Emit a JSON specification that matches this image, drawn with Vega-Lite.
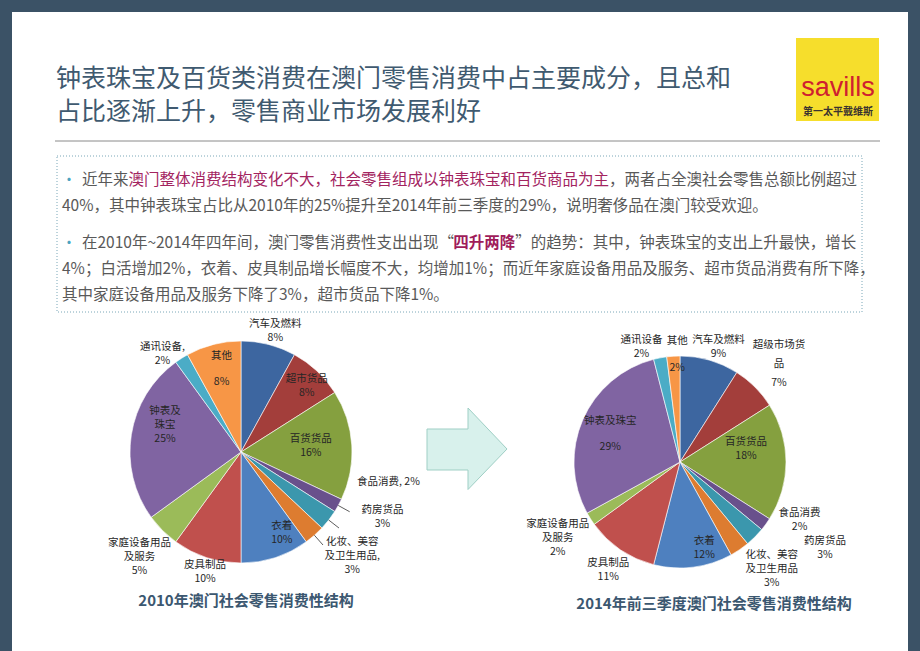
{
  "$schema": "https://vega.github.io/schema/vega-lite/v6.json",
  "width": 920,
  "height": 651,
  "autosize": {"type": "fit", "contains": "padding"},
  "padding": 0,
  "background": "#3b5266",
  "config": {
    "view": {"stroke": null},
    "axis": {"disable": true},
    "font": "Noto Sans CJK SC",
    "text": {"font": "Noto Sans CJK SC", "fontSize": 10.5, "lineHeight": 14, "lineBreak": "\n", "align": "center", "baseline": "middle", "color": "#262626"}
  },
  "datasets": {
    "d2010": [
      {"cat": "汽车及燃料", "rank": 1, "v": 8, "label": "汽车及燃料\n8%"},
      {"cat": "超市货品", "rank": 2, "v": 8, "label": "超市货品\n8%"},
      {"cat": "百货货品", "rank": 3, "v": 16, "label": "百货货品\n16%"},
      {"cat": "食品消费", "rank": 4, "v": 2, "label": "食品消费, 2%"},
      {"cat": "药房货品", "rank": 5, "v": 3, "label": "药房货品\n3%"},
      {"cat": "化妆、美容及卫生用品", "rank": 6, "v": 3, "label": "化妆、美容\n及卫生用品,\n3%"},
      {"cat": "衣着", "rank": 7, "v": 10, "label": "衣着\n10%"},
      {"cat": "皮具制品", "rank": 8, "v": 10, "label": "皮具制品\n10%"},
      {"cat": "家庭设备用品及服务", "rank": 9, "v": 5, "label": "家庭设备用品\n及服务\n5%"},
      {"cat": "钟表及珠宝", "rank": 10, "v": 25, "label": "钟表及\n珠宝\n25%"},
      {"cat": "通讯设备", "rank": 11, "v": 2, "label": "通讯设备,\n2%"},
      {"cat": "其他", "rank": 12, "v": 8, "label": "其他\n8%"}
    ],
    "d2014": [
      {"cat": "汽车及燃料", "rank": 1, "v": 9, "label": "汽车及燃料\n9%"},
      {"cat": "超市货品", "rank": 2, "v": 7, "label": "超级市场货\n品\n7%"},
      {"cat": "百货货品", "rank": 3, "v": 18, "label": "百货货品\n18%"},
      {"cat": "食品消费", "rank": 4, "v": 2, "label": "食品消费\n2%"},
      {"cat": "药房货品", "rank": 5, "v": 3, "label": "药房货品\n3%"},
      {"cat": "化妆、美容及卫生用品", "rank": 6, "v": 3, "label": "化妆、美容\n及卫生用品\n3%"},
      {"cat": "衣着", "rank": 7, "v": 12, "label": "衣着\n12%"},
      {"cat": "皮具制品", "rank": 8, "v": 11, "label": "皮具制品\n11%"},
      {"cat": "家庭设备用品及服务", "rank": 9, "v": 2, "label": "家庭设备用品\n及服务\n2%"},
      {"cat": "钟表及珠宝", "rank": 10, "v": 29, "label": "钟表及珠宝\n29%"},
      {"cat": "通讯设备", "rank": 11, "v": 2, "label": "通讯设备\n2%"},
      {"cat": "其他", "rank": 12, "v": 2, "label": "其他\n2%"}
    ],
    "para": [
      {"para": 1, "pline": 1, "seg": 1, "text": "近年来", "hl": "none"},
      {"para": 1, "pline": 1, "seg": 2, "text": "澳门整体消费结构变化不大，社会零售组成以钟表珠宝和百货商品为主", "hl": "pink"},
      {"para": 1, "pline": 1, "seg": 3, "text": "，两者占全澳社会零售总额比例超过", "hl": "none"},
      {"para": 1, "pline": 2, "seg": 1, "text": "40%，其中钟表珠宝占比从2010年的25%提升至2014年前三季度的29%，说明奢侈品在澳门较受欢迎。", "hl": "none"},
      {"para": 2, "pline": 1, "seg": 1, "text": "在2010年~2014年四年间，澳门零售消费性支出出现“", "hl": "none"},
      {"para": 2, "pline": 1, "seg": 2, "text": "四升两降", "hl": "bold"},
      {"para": 2, "pline": 1, "seg": 3, "text": "”的趋势：其中，钟表珠宝的支出上升最快，增长", "hl": "none"},
      {"para": 2, "pline": 2, "seg": 1, "text": "4%；白活增加2%，衣着、皮具制品增长幅度不大，均增加1%；而近年家庭设备用品及服务、超市货品消费有所下降，", "hl": "none"},
      {"para": 2, "pline": 3, "seg": 1, "text": "其中家庭设备用品及服务下降了3%，超市货品下降1%。", "hl": "none"}
    ]
  },
  "layer": [
    {
      "data": {"values": [{}]},
      "mark": {"type": "rect", "fill": "#ffffff"},
      "encoding": {
        "x": {"datum": 12, "type": "quantitative", "scale": {"domain": [0, 920], "nice": false, "zero": false}, "axis": null},
        "x2": {"datum": 908},
        "y": {"datum": 12, "type": "quantitative", "scale": {"domain": [0, 651], "reverse": true, "nice": false, "zero": false}, "axis": null},
        "y2": {"datum": 651}
      }
    },
    {
      "data": {"values": [
        {"line": 1, "t": "钟表珠宝及百货类消费在澳门零售消费中占主要成分，且总和"},
        {"line": 2, "t": "占比逐渐上升，零售商业市场发展利好"}
      ]},
      "transform": [{"calculate": "79 + (datum.line - 1) * 33", "as": "ty"}],
      "mark": {"type": "text", "align": "left", "baseline": "middle", "fontSize": 25, "color": "#3f5a70"},
      "encoding": {
        "x": {"datum": 56, "type": "quantitative"},
        "y": {"field": "ty", "type": "quantitative"},
        "text": {"field": "t"}
      }
    },
    {
      "data": {"values": [{}]},
      "mark": {"type": "rule", "color": "#8a8a8a", "strokeWidth": 1},
      "encoding": {
        "x": {"datum": 55, "type": "quantitative"},
        "x2": {"datum": 880},
        "y": {"datum": 141, "type": "quantitative"}
      }
    },
    {
      "data": {"values": [{}]},
      "mark": {"type": "rect", "fill": "#f6de2c"},
      "encoding": {
        "x": {"datum": 796, "type": "quantitative"},
        "x2": {"datum": 879},
        "y": {"datum": 38, "type": "quantitative"},
        "y2": {"datum": 121}
      }
    },
    {
      "data": {"values": [{"t": "savills"}]},
      "mark": {"type": "text", "fontSize": 27, "font": "Liberation Sans", "color": "#cf2030"},
      "encoding": {
        "x": {"datum": 838, "type": "quantitative"},
        "y": {"datum": 88, "type": "quantitative"},
        "text": {"field": "t"}
      }
    },
    {
      "data": {"values": [{"t": "第一太平戴维斯"}]},
      "mark": {"type": "text", "fontSize": 10, "fontWeight": "bold", "color": "#3a3330"},
      "encoding": {
        "x": {"datum": 838, "type": "quantitative"},
        "y": {"datum": 112, "type": "quantitative"},
        "text": {"field": "t"}
      }
    },
    {
      "data": {"values": [{}]},
      "mark": {"type": "rect", "fillOpacity": 0, "stroke": "#7aa7b8", "strokeWidth": 1, "strokeDash": [1, 2]},
      "encoding": {
        "x": {"datum": 57, "type": "quantitative"},
        "x2": {"datum": 862},
        "y": {"datum": 156, "type": "quantitative"},
        "y2": {"datum": 312}
      }
    },
    {
      "data": {"name": "para"},
      "transform": [
        {"filter": "datum.pline == 1 && datum.seg == 1"},
        {"calculate": "180 + ((datum.para == 1 ? datum.pline : datum.pline + 2) - 1) * 26 + (datum.para - 1) * 11", "as": "py"}
      ],
      "mark": {"type": "text", "text": "•", "fontSize": 15, "color": "#4aa3bf"},
      "encoding": {
        "x": {"datum": 69, "type": "quantitative"},
        "y": {"field": "py", "type": "quantitative"}
      }
    },
    {
      "data": {"name": "para"},
      "transform": [
        {"calculate": "length(datum.text) - length(replace(datum.text, regexp('[ -~]', 'g'), ''))", "as": "na"},
        {"calculate": "length(datum.text) - 0.45 * datum.na", "as": "w"},
        {"window": [{"op": "sum", "field": "w", "as": "cum"}], "groupby": ["para", "pline"], "sort": [{"field": "seg", "order": "ascending"}], "frame": [null, 0]},
        {"calculate": "(datum.pline == 1 ? 82 : 62) + (datum.cum - datum.w) * 15.5", "as": "px"},
        {"calculate": "180 + ((datum.para == 1 ? datum.pline : datum.pline + 2) - 1) * 26 + (datum.para - 1) * 11", "as": "py"},
        {"filter": "datum.hl != 'bold'"}
      ],
      "mark": {"type": "text", "align": "left", "fontSize": 15.5},
      "encoding": {
        "x": {"field": "px", "type": "quantitative"},
        "y": {"field": "py", "type": "quantitative"},
        "text": {"field": "text"},
        "color": {"condition": {"test": "datum.hl == 'pink'", "value": "#a3245f"}, "value": "#595959"}
      }
    },
    {
      "data": {"name": "para"},
      "transform": [
        {"calculate": "length(datum.text) - length(replace(datum.text, regexp('[ -~]', 'g'), ''))", "as": "na"},
        {"calculate": "length(datum.text) - 0.45 * datum.na", "as": "w"},
        {"window": [{"op": "sum", "field": "w", "as": "cum"}], "groupby": ["para", "pline"], "sort": [{"field": "seg", "order": "ascending"}], "frame": [null, 0]},
        {"calculate": "(datum.pline == 1 ? 82 : 62) + (datum.cum - datum.w) * 15.5", "as": "px"},
        {"calculate": "180 + ((datum.para == 1 ? datum.pline : datum.pline + 2) - 1) * 26 + (datum.para - 1) * 11", "as": "py"},
        {"filter": "datum.hl == 'bold'"}
      ],
      "mark": {"type": "text", "align": "left", "fontSize": 15.5, "fontWeight": "bold", "color": "#a01c5a"},
      "encoding": {
        "x": {"field": "px", "type": "quantitative"},
        "y": {"field": "py", "type": "quantitative"},
        "text": {"field": "text"}
      }
    },
    {
      "data": {"name": "d2010"},
      "transform": [{"stack": "v", "groupby": [], "sort": [{"field": "rank", "order": "ascending"}], "as": ["t0", "t1"]}],
      "mark": {"type": "arc", "outerRadius": 111, "stroke": "#ffffff", "strokeWidth": 0.6},
      "encoding": {
        "x": {"datum": 241, "type": "quantitative"},
        "y": {"datum": 452, "type": "quantitative"},
        "theta": {"field": "t0", "type": "quantitative", "scale": {"domain": [0, 100]}, "stack": null},
        "theta2": {"field": "t1"},
        "color": {
          "field": "cat", "type": "nominal", "legend": null,
          "scale": {
            "domain": ["汽车及燃料", "超市货品", "百货货品", "食品消费", "药房货品", "化妆、美容及卫生用品", "衣着", "皮具制品", "家庭设备用品及服务", "钟表及珠宝", "通讯设备", "其他"],
            "range": ["#3d66a0", "#a33e3b", "#85a03f", "#69508c", "#3b97ad", "#dd7c30", "#4e80bf", "#c0504d", "#9bbb59", "#8064a2", "#4bacc6", "#f79646"]
          }
        }
      }
    },
    {
      "data": {"name": "d2014"},
      "transform": [{"stack": "v", "groupby": [], "sort": [{"field": "rank", "order": "ascending"}], "as": ["t0", "t1"]}],
      "mark": {"type": "arc", "outerRadius": 106, "stroke": "#ffffff", "strokeWidth": 0.6},
      "encoding": {
        "x": {"datum": 680, "type": "quantitative"},
        "y": {"datum": 462, "type": "quantitative"},
        "theta": {"field": "t0", "type": "quantitative", "scale": {"domain": [0, 100]}, "stack": null},
        "theta2": {"field": "t1"},
        "color": {"field": "cat", "type": "nominal", "legend": null}
      }
    },
    {
      "data": {"name": "d2010"},
      "transform": [
        {"stack": "v", "groupby": [], "sort": [{"field": "rank", "order": "ascending"}], "as": ["t0", "t1"]},
        {"calculate": "(datum.t0 + datum.t1) / 100 * PI", "as": "a"},
        {"filter": {"field": "cat", "oneOf": ["食品消费", "药房货品", "化妆、美容及卫生用品"]}},
        {"calculate": "241 + 111 * sin(datum.a)", "as": "lx1"},
        {"calculate": "452 - 111 * cos(datum.a)", "as": "ly1"},
        {"calculate": "241 + 124 * sin(datum.a)", "as": "lx2"},
        {"calculate": "452 - 124 * cos(datum.a)", "as": "ly2"}
      ],
      "mark": {"type": "rule", "color": "#333333", "strokeWidth": 0.8},
      "encoding": {
        "x": {"field": "lx1", "type": "quantitative"},
        "y": {"field": "ly1", "type": "quantitative"},
        "x2": {"field": "lx2"},
        "y2": {"field": "ly2"}
      }
    },
    {"data": {"name": "d2010"}, "transform": [{"stack": "v", "groupby": [], "sort": [{"field": "rank"}], "as": ["t0", "t1"]}, {"calculate": "(datum.t0 + datum.t1) / 2", "as": "mid"}, {"filter": {"field": "cat", "equal": "汽车及燃料"}}],
     "mark": {"type": "text", "radius": 126, "dx": 3, "dy": -6},
     "encoding": {"x": {"datum": 241, "type": "quantitative"}, "y": {"datum": 452, "type": "quantitative"}, "theta": {"field": "mid", "type": "quantitative", "scale": {"domain": [0, 100]}, "stack": null}, "text": {"field": "label"}}},
    {"data": {"name": "d2010"}, "transform": [{"stack": "v", "groupby": [], "sort": [{"field": "rank"}], "as": ["t0", "t1"]}, {"calculate": "(datum.t0 + datum.t1) / 2", "as": "mid"}, {"filter": {"field": "cat", "equal": "超市货品"}}],
     "mark": {"type": "text", "radius": 93, "dx": 2, "dy": -5},
     "encoding": {"x": {"datum": 241, "type": "quantitative"}, "y": {"datum": 452, "type": "quantitative"}, "theta": {"field": "mid", "type": "quantitative", "scale": {"domain": [0, 100]}, "stack": null}, "text": {"field": "label"}}},
    {"data": {"name": "d2010"}, "transform": [{"stack": "v", "groupby": [], "sort": [{"field": "rank"}], "as": ["t0", "t1"]}, {"calculate": "(datum.t0 + datum.t1) / 2", "as": "mid"}, {"filter": {"field": "cat", "equal": "百货货品"}}],
     "mark": {"type": "text", "radius": 70, "dy": -9},
     "encoding": {"x": {"datum": 241, "type": "quantitative"}, "y": {"datum": 452, "type": "quantitative"}, "theta": {"field": "mid", "type": "quantitative", "scale": {"domain": [0, 100]}, "stack": null}, "text": {"field": "label"}}},
    {"data": {"name": "d2010"}, "transform": [{"stack": "v", "groupby": [], "sort": [{"field": "rank"}], "as": ["t0", "t1"]}, {"calculate": "(datum.t0 + datum.t1) / 2", "as": "mid"}, {"filter": {"field": "cat", "equal": "食品消费"}}],
     "mark": {"type": "text", "radius": 150, "dx": 16, "dy": -42},
     "encoding": {"x": {"datum": 241, "type": "quantitative"}, "y": {"datum": 452, "type": "quantitative"}, "theta": {"field": "mid", "type": "quantitative", "scale": {"domain": [0, 100]}, "stack": null}, "text": {"field": "label"}}},
    {"data": {"name": "d2010"}, "transform": [{"stack": "v", "groupby": [], "sort": [{"field": "rank"}], "as": ["t0", "t1"]}, {"calculate": "(datum.t0 + datum.t1) / 2", "as": "mid"}, {"filter": {"field": "cat", "equal": "药房货品"}}],
     "mark": {"type": "text", "radius": 150, "dx": 23, "dy": -34},
     "encoding": {"x": {"datum": 241, "type": "quantitative"}, "y": {"datum": 452, "type": "quantitative"}, "theta": {"field": "mid", "type": "quantitative", "scale": {"domain": [0, 100]}, "stack": null}, "text": {"field": "label"}}},
    {"data": {"name": "d2010"}, "transform": [{"stack": "v", "groupby": [], "sort": [{"field": "rank"}], "as": ["t0", "t1"]}, {"calculate": "(datum.t0 + datum.t1) / 2", "as": "mid"}, {"filter": {"field": "cat", "equal": "化妆、美容及卫生用品"}}],
     "mark": {"type": "text", "radius": 150, "dx": 12, "dy": -23},
     "encoding": {"x": {"datum": 241, "type": "quantitative"}, "y": {"datum": 452, "type": "quantitative"}, "theta": {"field": "mid", "type": "quantitative", "scale": {"domain": [0, 100]}, "stack": null}, "text": {"field": "label"}}},
    {"data": {"name": "d2010"}, "transform": [{"stack": "v", "groupby": [], "sort": [{"field": "rank"}], "as": ["t0", "t1"]}, {"calculate": "(datum.t0 + datum.t1) / 2", "as": "mid"}, {"filter": {"field": "cat", "equal": "衣着"}}],
     "mark": {"type": "text", "radius": 90, "dx": 13, "dy": -12},
     "encoding": {"x": {"datum": 241, "type": "quantitative"}, "y": {"datum": 452, "type": "quantitative"}, "theta": {"field": "mid", "type": "quantitative", "scale": {"domain": [0, 100]}, "stack": null}, "text": {"field": "label"}}},
    {"data": {"name": "d2010"}, "transform": [{"stack": "v", "groupby": [], "sort": [{"field": "rank"}], "as": ["t0", "t1"]}, {"calculate": "(datum.t0 + datum.t1) / 2", "as": "mid"}, {"filter": {"field": "cat", "equal": "皮具制品"}}],
     "mark": {"type": "text", "radius": 126, "dx": 3, "dy": -7},
     "encoding": {"x": {"datum": 241, "type": "quantitative"}, "y": {"datum": 452, "type": "quantitative"}, "theta": {"field": "mid", "type": "quantitative", "scale": {"domain": [0, 100]}, "stack": null}, "text": {"field": "label"}}},
    {"data": {"name": "d2010"}, "transform": [{"stack": "v", "groupby": [], "sort": [{"field": "rank"}], "as": ["t0", "t1"]}, {"calculate": "(datum.t0 + datum.t1) / 2", "as": "mid"}, {"filter": {"field": "cat", "equal": "家庭设备用品及服务"}}],
     "mark": {"type": "text", "radius": 145, "dx": 1, "dy": -12},
     "encoding": {"x": {"datum": 241, "type": "quantitative"}, "y": {"datum": 452, "type": "quantitative"}, "theta": {"field": "mid", "type": "quantitative", "scale": {"domain": [0, 100]}, "stack": null}, "text": {"field": "label"}}},
    {"data": {"name": "d2010"}, "transform": [{"stack": "v", "groupby": [], "sort": [{"field": "rank"}], "as": ["t0", "t1"]}, {"calculate": "(datum.t0 + datum.t1) / 2", "as": "mid"}, {"filter": {"field": "cat", "equal": "钟表及珠宝"}}],
     "mark": {"type": "text", "radius": 82, "dx": 5, "dy": -28},
     "encoding": {"x": {"datum": 241, "type": "quantitative"}, "y": {"datum": 452, "type": "quantitative"}, "theta": {"field": "mid", "type": "quantitative", "scale": {"domain": [0, 100]}, "stack": null}, "text": {"field": "label"}}},
    {"data": {"name": "d2010"}, "transform": [{"stack": "v", "groupby": [], "sort": [{"field": "rank"}], "as": ["t0", "t1"]}, {"calculate": "(datum.t0 + datum.t1) / 2", "as": "mid"}, {"filter": {"field": "cat", "equal": "通讯设备"}}],
     "mark": {"type": "text", "radius": 126, "dx": -11, "dy": 1},
     "encoding": {"x": {"datum": 241, "type": "quantitative"}, "y": {"datum": 452, "type": "quantitative"}, "theta": {"field": "mid", "type": "quantitative", "scale": {"domain": [0, 100]}, "stack": null}, "text": {"field": "label"}}},
    {"data": {"name": "d2010"}, "transform": [{"stack": "v", "groupby": [], "sort": [{"field": "rank"}], "as": ["t0", "t1"]}, {"calculate": "(datum.t0 + datum.t1) / 2", "as": "mid"}, {"filter": {"field": "cat", "equal": "其他"}}],
     "mark": {"type": "text", "radius": 90, "dx": 3, "dy": -9, "lineHeight": 26},
     "encoding": {"x": {"datum": 241, "type": "quantitative"}, "y": {"datum": 452, "type": "quantitative"}, "theta": {"field": "mid", "type": "quantitative", "scale": {"domain": [0, 100]}, "stack": null}, "text": {"field": "label"}}},
    {"data": {"name": "d2014"}, "transform": [{"stack": "v", "groupby": [], "sort": [{"field": "rank"}], "as": ["t0", "t1"]}, {"calculate": "(datum.t0 + datum.t1) / 2", "as": "mid"}, {"filter": {"field": "cat", "equal": "汽车及燃料"}}],
     "mark": {"type": "text", "radius": 120, "dx": 5, "dy": -7},
     "encoding": {"x": {"datum": 680, "type": "quantitative"}, "y": {"datum": 462, "type": "quantitative"}, "theta": {"field": "mid", "type": "quantitative", "scale": {"domain": [0, 100]}, "stack": null}, "text": {"field": "label"}}},
    {"data": {"name": "d2014"}, "transform": [{"stack": "v", "groupby": [], "sort": [{"field": "rank"}], "as": ["t0", "t1"]}, {"calculate": "(datum.t0 + datum.t1) / 2", "as": "mid"}, {"filter": {"field": "cat", "equal": "超市货品"}}],
     "mark": {"type": "text", "radius": 140, "dy": -18, "lineHeight": 19},
     "encoding": {"x": {"datum": 680, "type": "quantitative"}, "y": {"datum": 462, "type": "quantitative"}, "theta": {"field": "mid", "type": "quantitative", "scale": {"domain": [0, 100]}, "stack": null}, "text": {"field": "label"}}},
    {"data": {"name": "d2014"}, "transform": [{"stack": "v", "groupby": [], "sort": [{"field": "rank"}], "as": ["t0", "t1"]}, {"calculate": "(datum.t0 + datum.t1) / 2", "as": "mid"}, {"filter": {"field": "cat", "equal": "百货货品"}}],
     "mark": {"type": "text", "radius": 66, "dy": -20},
     "encoding": {"x": {"datum": 680, "type": "quantitative"}, "y": {"datum": 462, "type": "quantitative"}, "theta": {"field": "mid", "type": "quantitative", "scale": {"domain": [0, 100]}, "stack": null}, "text": {"field": "label"}}},
    {"data": {"name": "d2014"}, "transform": [{"stack": "v", "groupby": [], "sort": [{"field": "rank"}], "as": ["t0", "t1"]}, {"calculate": "(datum.t0 + datum.t1) / 2", "as": "mid"}, {"filter": {"field": "cat", "equal": "食品消费"}}],
     "mark": {"type": "text", "radius": 133, "dx": 12, "dy": -27},
     "encoding": {"x": {"datum": 680, "type": "quantitative"}, "y": {"datum": 462, "type": "quantitative"}, "theta": {"field": "mid", "type": "quantitative", "scale": {"domain": [0, 100]}, "stack": null}, "text": {"field": "label"}}},
    {"data": {"name": "d2014"}, "transform": [{"stack": "v", "groupby": [], "sort": [{"field": "rank"}], "as": ["t0", "t1"]}, {"calculate": "(datum.t0 + datum.t1) / 2", "as": "mid"}, {"filter": {"field": "cat", "equal": "药房货品"}}],
     "mark": {"type": "text", "radius": 133, "dx": 51, "dy": -15},
     "encoding": {"x": {"datum": 680, "type": "quantitative"}, "y": {"datum": 462, "type": "quantitative"}, "theta": {"field": "mid", "type": "quantitative", "scale": {"domain": [0, 100]}, "stack": null}, "text": {"field": "label"}}},
    {"data": {"name": "d2014"}, "transform": [{"stack": "v", "groupby": [], "sort": [{"field": "rank"}], "as": ["t0", "t1"]}, {"calculate": "(datum.t0 + datum.t1) / 2", "as": "mid"}, {"filter": {"field": "cat", "equal": "化妆、美容及卫生用品"}}],
     "mark": {"type": "text", "radius": 140, "dx": 13, "dy": -23},
     "encoding": {"x": {"datum": 680, "type": "quantitative"}, "y": {"datum": 462, "type": "quantitative"}, "theta": {"field": "mid", "type": "quantitative", "scale": {"domain": [0, 100]}, "stack": null}, "text": {"field": "label"}}},
    {"data": {"name": "d2014"}, "transform": [{"stack": "v", "groupby": [], "sort": [{"field": "rank"}], "as": ["t0", "t1"]}, {"calculate": "(datum.t0 + datum.t1) / 2", "as": "mid"}, {"filter": {"field": "cat", "equal": "衣着"}}],
     "mark": {"type": "text", "radius": 89, "dx": 13, "dy": -9},
     "encoding": {"x": {"datum": 680, "type": "quantitative"}, "y": {"datum": 462, "type": "quantitative"}, "theta": {"field": "mid", "type": "quantitative", "scale": {"domain": [0, 100]}, "stack": null}, "text": {"field": "label"}}},
    {"data": {"name": "d2014"}, "transform": [{"stack": "v", "groupby": [], "sort": [{"field": "rank"}], "as": ["t0", "t1"]}, {"calculate": "(datum.t0 + datum.t1) / 2", "as": "mid"}, {"filter": {"field": "cat", "equal": "皮具制品"}}],
     "mark": {"type": "text", "radius": 133, "dx": 3, "dy": -9},
     "encoding": {"x": {"datum": 680, "type": "quantitative"}, "y": {"datum": 462, "type": "quantitative"}, "theta": {"field": "mid", "type": "quantitative", "scale": {"domain": [0, 100]}, "stack": null}, "text": {"field": "label"}}},
    {"data": {"name": "d2014"}, "transform": [{"stack": "v", "groupby": [], "sort": [{"field": "rank"}], "as": ["t0", "t1"]}, {"calculate": "(datum.t0 + datum.t1) / 2", "as": "mid"}, {"filter": {"field": "cat", "equal": "家庭设备用品及服务"}}],
     "mark": {"type": "text", "radius": 140, "dx": -4, "dy": -13},
     "encoding": {"x": {"datum": 680, "type": "quantitative"}, "y": {"datum": 462, "type": "quantitative"}, "theta": {"field": "mid", "type": "quantitative", "scale": {"domain": [0, 100]}, "stack": null}, "text": {"field": "label"}}},
    {"data": {"name": "d2014"}, "transform": [{"stack": "v", "groupby": [], "sort": [{"field": "rank"}], "as": ["t0", "t1"]}, {"calculate": "(datum.t0 + datum.t1) / 2", "as": "mid"}, {"filter": {"field": "cat", "equal": "钟表及珠宝"}}],
     "mark": {"type": "text", "radius": 76, "dy": -11, "lineHeight": 26},
     "encoding": {"x": {"datum": 680, "type": "quantitative"}, "y": {"datum": 462, "type": "quantitative"}, "theta": {"field": "mid", "type": "quantitative", "scale": {"domain": [0, 100]}, "stack": null}, "text": {"field": "label"}}},
    {"data": {"name": "d2014"}, "transform": [{"stack": "v", "groupby": [], "sort": [{"field": "rank"}], "as": ["t0", "t1"]}, {"calculate": "(datum.t0 + datum.t1) / 2", "as": "mid"}, {"filter": {"field": "cat", "equal": "通讯设备"}}],
     "mark": {"type": "text", "radius": 120, "dx": -16, "dy": -4},
     "encoding": {"x": {"datum": 680, "type": "quantitative"}, "y": {"datum": 462, "type": "quantitative"}, "theta": {"field": "mid", "type": "quantitative", "scale": {"domain": [0, 100]}, "stack": null}, "text": {"field": "label"}}},
    {"data": {"name": "d2014"}, "transform": [{"stack": "v", "groupby": [], "sort": [{"field": "rank"}], "as": ["t0", "t1"]}, {"calculate": "(datum.t0 + datum.t1) / 2", "as": "mid"}, {"filter": {"field": "cat", "equal": "其他"}}],
     "mark": {"type": "text", "radius": 107, "dx": 4, "dy": -14, "lineHeight": 27},
     "encoding": {"x": {"datum": 680, "type": "quantitative"}, "y": {"datum": 462, "type": "quantitative"}, "theta": {"field": "mid", "type": "quantitative", "scale": {"domain": [0, 100]}, "stack": null}, "text": {"field": "label"}}},
    {
      "data": {"values": [{"t": "2010年澳门社会零售消费性结构"}]},
      "mark": {"type": "text", "fontSize": 15, "fontWeight": "bold", "color": "#3b5770"},
      "encoding": {
        "x": {"datum": 246, "type": "quantitative"},
        "y": {"datum": 601, "type": "quantitative"},
        "text": {"field": "t"}
      }
    },
    {
      "data": {"values": [{"t": "2014年前三季度澳门社会零售消费性结构"}]},
      "mark": {"type": "text", "fontSize": 15, "fontWeight": "bold", "color": "#3b5770"},
      "encoding": {
        "x": {"datum": 714, "type": "quantitative"},
        "y": {"datum": 604, "type": "quantitative"},
        "text": {"field": "t"}
      }
    },
    {
      "data": {"values": [{}]},
      "mark": {"type": "point", "shape": "M-0.8,-0.4L0.02,-0.4L0.02,-0.82L0.8,0L0.02,0.81L0.02,0.42L-0.8,0.42Z", "size": 10000, "filled": true, "fill": "#d8f1ec", "stroke": "#9fcfc5", "strokeWidth": 1, "opacity": 1},
      "encoding": {
        "x": {"datum": 467, "type": "quantitative"},
        "y": {"datum": 449, "type": "quantitative"}
      }
    }
  ]
}
